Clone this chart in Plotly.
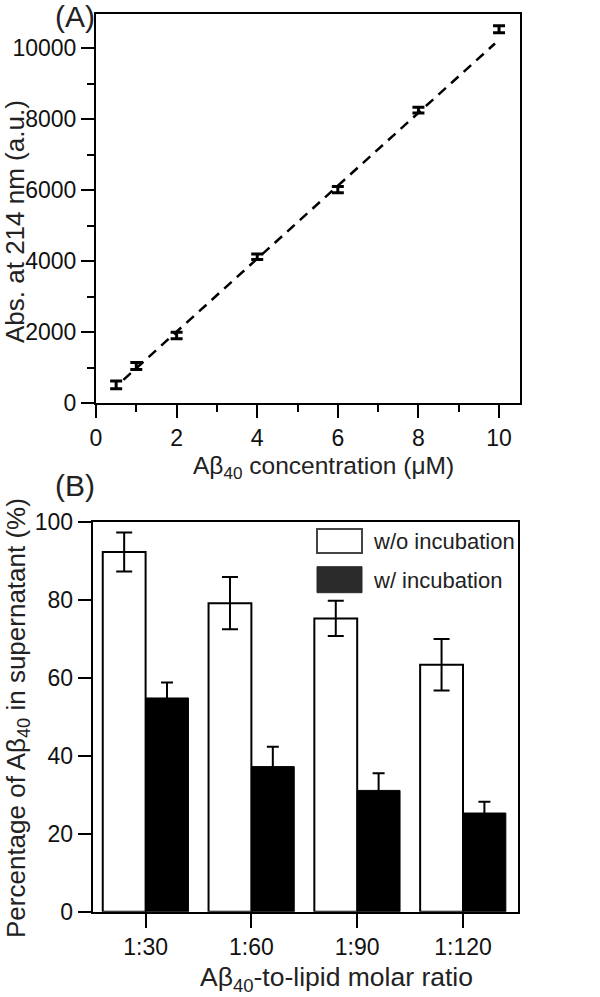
import plotly.graph_objects as go

# ---------------- data ----------------
# Panel A
conc = [0.5, 1, 2, 4, 6, 8, 10]
absorb = [520, 1050, 1910, 4130, 6020, 8260, 10540]
absorb_err = [110, 100, 90, 80, 90, 80, 100]
fit_x = [0.68, 9.9]
fit_y = [660, 10140]

# Panel B
ratios = ["1:30", "1:60", "1:90", "1:120"]
wo_incub = [92.2, 79.1, 75.2, 63.3]
wo_incub_err = [5.0, 6.7, 4.5, 6.6]
w_incub = [54.8, 37.2, 31.1, 25.3]
w_incub_err = [4.0, 5.1, 4.4, 2.9]
legend_labels = ["w/o incubation", "w/ incubation"]

W, H = 600, 997
def px(x):
    return x / W
def py(y):
    return 1 - y / H

TICKFONT = dict(family="Liberation Sans, Arial", size=23, color="#111")

fig = go.Figure()

fig.add_trace(go.Scatter(
    x=fit_x, y=fit_y, mode="lines",
    line=dict(color="black", width=2.5, dash="10px,7px"),
    xaxis="x", yaxis="y", showlegend=False, hoverinfo="skip"))
fig.add_trace(go.Scatter(
    x=conc, y=absorb, mode="markers",
    marker=dict(size=1, color="black"),
    error_y=dict(type="data", array=absorb_err, color="black", thickness=3, width=6),
    xaxis="x", yaxis="y", showlegend=False))

fig.add_trace(go.Bar(
    x=ratios, y=wo_incub, name=legend_labels[0],
    marker=dict(color="white", line=dict(color="black", width=2)),
    error_y=dict(type="data", array=wo_incub_err, color="black", thickness=2, width=8),
    xaxis="x2", yaxis="y2", showlegend=False))
fig.add_trace(go.Bar(
    x=ratios, y=w_incub, name=legend_labels[1],
    marker=dict(color="black", line=dict(color="black", width=1)),
    error_y=dict(type="data", array=w_incub_err, color="black", thickness=2, width=6),
    xaxis="x2", yaxis="y2", showlegend=False))

axis_common = dict(showline=True, linecolor="black", linewidth=2, mirror=True,
                   ticks="outside", tickcolor="black", tickwidth=2, showgrid=False,
                   zeroline=False, tickfont=TICKFONT, automargin=False)

fig.update_layout(
    width=W, height=H,
    margin=dict(l=0, r=0, t=0, b=0, autoexpand=False),
    paper_bgcolor="white", plot_bgcolor="white",
    barmode="group", bargap=0.19, bargroupgap=0,
    xaxis=dict(domain=[px(96), px(520)], anchor="y", range=[0, 10.52], dtick=2, ticklen=13,
               minor=dict(dtick=1, ticks="outside", ticklen=7, tickwidth=2, tickcolor="black", showgrid=False),
               **axis_common),
    yaxis=dict(domain=[py(403.3), py(14)], anchor="x", range=[0, 10970], dtick=2000, ticklen=13,
               tickformat="d",
               minor=dict(dtick=1000, ticks="outside", ticklen=7, tickwidth=2, tickcolor="black", showgrid=False),
               **axis_common),
    xaxis2=dict(domain=[px(92.7), px(518)], anchor="y2", type="category", range=[-0.5, 3.52], ticklen=14,
                **axis_common),
    yaxis2=dict(domain=[py(911.7), py(521.7)], anchor="x2", range=[0, 100], dtick=20, ticklen=13,
                **axis_common),
)

def note(text, x, y, size=26, angle=0, xanchor="center"):
    return dict(text=text, x=px(x), y=py(y), xref="paper", yref="paper", showarrow=False,
                xanchor=xanchor, yanchor="middle", textangle=angle,
                font=dict(family="Liberation Sans, Arial", size=size, color="#222"))

ann = [
    note("(A)", 75, 16, size=30),
    note("(B)", 75, 485, size=30),
    note("Aβ<sub>40</sub> concentration (μM)", 323, 467, size=24.5),
    note("Abs. at 214 nm (a.u.)", 15, 222, size=26, angle=-90),
    note("Aβ<sub>40</sub>-to-lipid molar ratio", 336, 979, size=26.5),
    note("Percentage of Aβ<sub>40</sub> in supernatant (%)", 17, 718, size=26, angle=-90),
    note(legend_labels[0], 371, 541, size=22, xanchor="left"),
    note(legend_labels[1], 371, 580, size=22, xanchor="left"),
]
fig.update_layout(annotations=ann)

fig.add_shape(type="rect", xref="paper", yref="paper", x0=px(317), x1=px(362), y0=py(553), y1=py(529),
              fillcolor="white", line=dict(color="#444", width=2))
fig.add_shape(type="rect", xref="paper", yref="paper", x0=px(317), x1=px(362), y0=py(592.7), y1=py(566.7),
              fillcolor="#2b2b2b", line=dict(color="#2b2b2b", width=1))

fig.write_html("out.html", config={"displayModeBar": False},
               post_script="document.body.style.margin='0';document.body.style.overflow='hidden';")
